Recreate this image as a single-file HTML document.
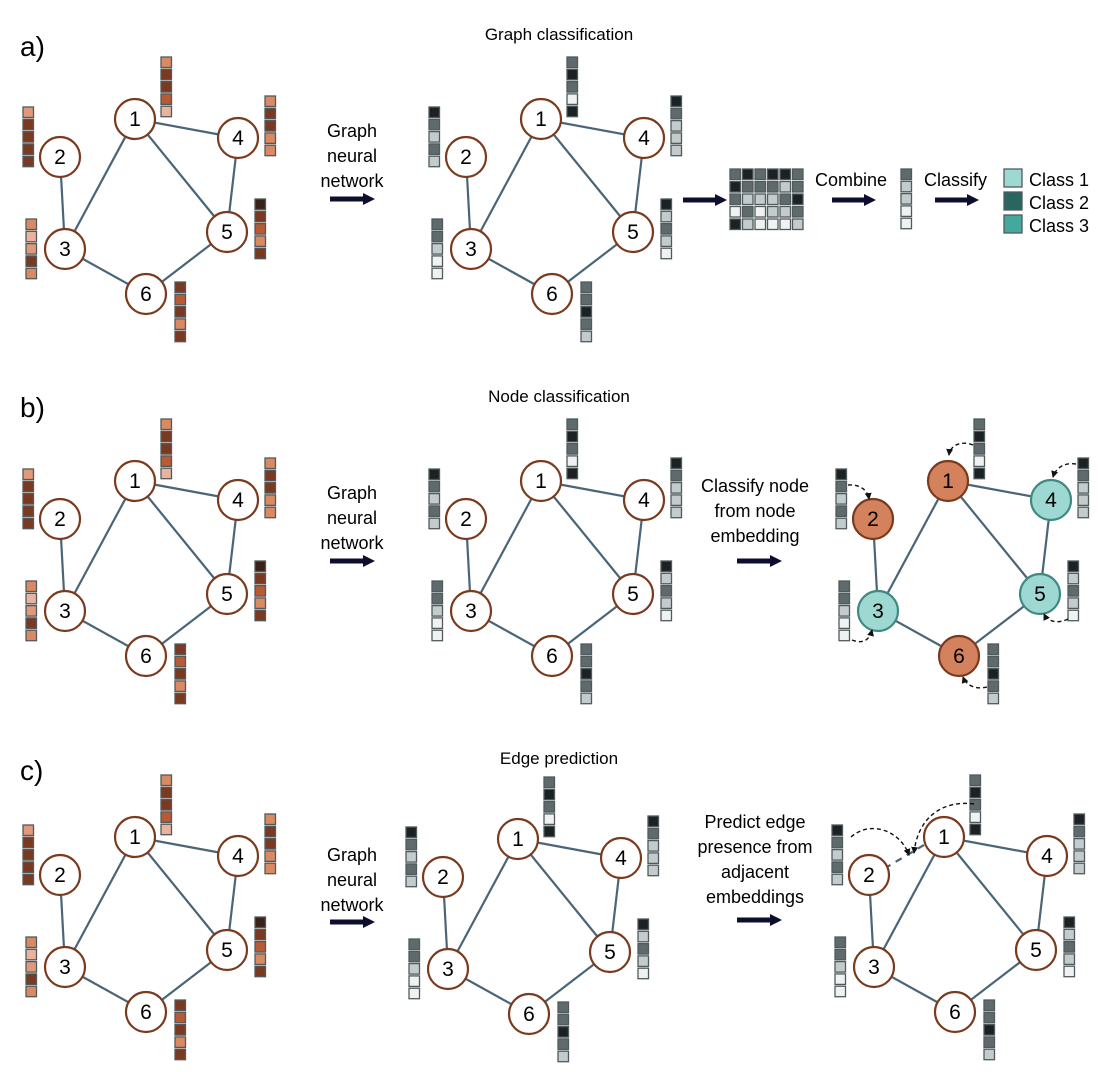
<!DOCTYPE html>
<html><head><meta charset="utf-8"><style>
html,body{margin:0;padding:0;background:#fff;}
svg{display:block;font-family:"Liberation Sans","DejaVu Sans",sans-serif;}
</style></head><body>
<svg id="s" width="1098" height="1072" viewBox="0 0 1098 1072" xmlns="http://www.w3.org/2000/svg">
<defs>
<marker id="ah" markerWidth="12" markerHeight="12" refX="11" refY="6" orient="auto" markerUnits="userSpaceOnUse"><path d="M0,0 L12,6 L0,12 z" fill="#0d0d2e"/></marker>
<marker id="sa" markerWidth="7" markerHeight="7" refX="6" refY="3.5" orient="auto" markerUnits="userSpaceOnUse"><path d="M0,0 L7,3.5 L0,7 z" fill="#111"/></marker>
</defs>
<g id="g"></g>
<text x="20" y="56" font-size="28">a)</text>
<text x="20" y="417" font-size="28">b)</text>
<text x="20" y="780" font-size="28">c)</text>
<text x="559" y="40" font-size="17" text-anchor="middle">Graph classification</text>
<text x="559" y="402" font-size="17" text-anchor="middle">Node classification</text>
<text x="559" y="764" font-size="17" text-anchor="middle">Edge prediction</text>
<g font-size="18" text-anchor="middle">
<text x="352" y="137">Graph</text><text x="352" y="162">neural</text><text x="352" y="187">network</text>
<text x="352" y="499">Graph</text><text x="352" y="524">neural</text><text x="352" y="549">network</text>
<text x="352" y="861">Graph</text><text x="352" y="886">neural</text><text x="352" y="911">network</text>
<text x="755" y="492">Classify node</text><text x="755" y="517">from node</text><text x="755" y="542">embedding</text>
<text x="755" y="828">Predict edge</text><text x="755" y="853">presence from</text><text x="755" y="878">adjacent</text><text x="755" y="903">embeddings</text>
</g>
<g font-size="18">
<text x="815" y="186">Combine</text><text x="924" y="186">Classify</text>
<text x="1029" y="186">Class 1</text><text x="1029" y="209">Class 2</text><text x="1029" y="232">Class 3</text>
</g>
</svg>
<script>
var g=document.getElementById('g');var h='';
var L={1:[135,119],2:[60,157],3:[65,249],4:[238,138],5:[227,232],6:[146,294]};
var V={1:[161,57],2:[23,107],3:[26,219],4:[265,96],5:[255,199],6:[175,282]};
var E=[[1,4],[1,3],[1,5],[2,3],[4,5],[3,6],[5,6]];
var O={a:'#d98a63',b:'#7a3a22',c:'#b85a35',d:'#e8b4a0',e:'#3a2218',f:'#e09a7a'};
var G={k:'#1c2224',d:'#5f6a6d',l:'#c4cbcc',w:'#f0f2f2'};
var ov={1:'abbcd',2:'fbbbb',3:'adfba',4:'abbaa',5:'ebcab',6:'bcbab'};
var gv={1:'dkdwk',2:'kdldl',3:'ddlww',4:'kdlll',5:'kldlw',6:'ddkdl'};
function vec(x,y,s,pal){for(var i=0;i<5;i++)h+='<rect x="'+x+'" y="'+(y+i*12.3)+'" width="10.5" height="10.5" fill="'+pal[s[i]]+'" stroke="#505a5c" stroke-width="1.3"/>';}
function graph(dx,dy,pal,vv,fills,dash){
 for(var e of E){var a=L[e[0]],b=L[e[1]];h+='<line x1="'+(a[0]+dx)+'" y1="'+(a[1]+dy)+'" x2="'+(b[0]+dx)+'" y2="'+(b[1]+dy)+'" stroke="#4a6577" stroke-width="2.2"/>';}
 if(dash){h+='<line x1="'+(L[1][0]+dx-20)+'" y1="'+(L[1][1]+dy+8)+'" x2="'+(L[2][0]+dx+18)+'" y2="'+(L[2][1]+dy-8)+'" stroke="#4a6577" stroke-width="2.2" stroke-dasharray="7,6"/>';}
 for(var n=1;n<=6;n++){var p=L[n],f=fills?fills[n]:['#fff','#7a3a1e'];
  h+='<circle cx="'+(p[0]+dx)+'" cy="'+(p[1]+dy)+'" r="20" fill="'+f[0]+'" stroke="'+f[1]+'" stroke-width="2.2"/>';
  h+='<text x="'+(p[0]+dx)+'" y="'+(p[1]+dy+7)+'" font-size="21" text-anchor="middle">'+n+'</text>';
  vec(V[n][0]+dx,V[n][1]+dy,vv[n],pal);}
}
var OR=['#d4825e','#7a3a1e'],CY=['#9ed8d2','#3f8a80'];
graph(0,0,O,ov);graph(406,0,G,gv);
graph(0,362,O,ov);graph(406,362,G,gv);graph(813,362,G,gv,{1:OR,2:OR,3:CY,4:CY,5:CY,6:OR});
graph(0,718,O,ov);graph(383,720,G,gv);graph(809,718,G,gv,null,true);
function ar(x1,y,x2){h+='<line x1="'+x1+'" y1="'+y+'" x2="'+(x2-6)+'" y2="'+y+'" stroke="#0d0d2e" stroke-width="5"/><path d="M'+(x2-12)+','+(y-6)+' L'+x2+','+y+' L'+(x2-12)+','+(y+6)+' z" fill="#0d0d2e"/>';}
ar(330,199,375);ar(330,561,375);ar(330,922,375);ar(737,561,782);ar(737,920,782);
ar(683,200,727);ar(832,200,876);ar(935,200,979);
var M=['dkdkkd','kdddld','dllldk','wdwlld','klwwwl'];
for(var r=0;r<5;r++)for(var c=0;c<6;c++)h+='<rect x="'+(730+c*12.5)+'" y="'+(169+r*12.5)+'" width="10.5" height="10.5" fill="'+G[M[r][c]]+'" stroke="#505a5c" stroke-width="1.3"/>';
vec(901,169,'dllww',G);
var C=['#9ed8d2','#2a6660','#45a89d'];
for(var i=0;i<3;i++)h+='<rect x="1004" y="'+(169+i*23)+'" width="18" height="18" fill="'+C[i]+'" stroke="#505a5c" stroke-width="1.3"/>';
function cv(d){h+='<path d="'+d+'" fill="none" stroke="#111" stroke-width="1.4" stroke-dasharray="4,3" marker-end="url(#sa)"/>';}
cv('M973,445 C960,440 950,446 949,455');
cv('M848,485 C862,484 868,492 869,499');
cv('M1076,464 C1062,462 1055,470 1053,477');
cv('M1068,619 C1058,624 1048,622 1044,614');
cv('M852,640 C865,645 870,638 872,630');
cv('M987,687 C975,690 966,685 963,677');
cv('M851,837 C870,820 900,830 909,855');
cv('M974,804 C945,800 918,815 914,853');
g.innerHTML=h;
</script>
</body></html>
